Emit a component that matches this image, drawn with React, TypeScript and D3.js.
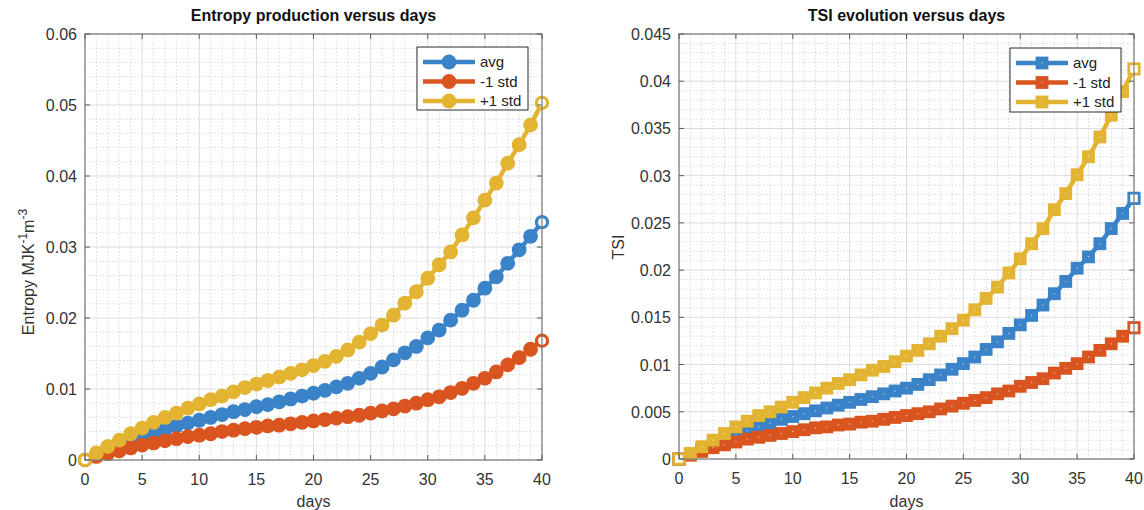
import React from 'react';
import * as d3 from 'd3';

const days = d3.range(0, 41);

// Entropy production (MJ K^-1 m^-3)
const entropyAvg = [
  0, 0.0007, 0.0014, 0.002, 0.0027, 0.0033, 0.0038, 0.0043, 0.0048, 0.0052, 0.0056,
  0.006, 0.0064, 0.0068, 0.0071, 0.0075, 0.0078, 0.0082, 0.0086, 0.009, 0.0094,
  0.0098, 0.0103, 0.0108, 0.0115, 0.0122, 0.0131, 0.0141, 0.0151, 0.016, 0.0172,
  0.0183, 0.0197, 0.0211, 0.0225, 0.0242, 0.0258, 0.0277, 0.0296, 0.0315, 0.0335,
];
const entropyMinus = [
  0, 0.0005, 0.0009, 0.0013, 0.0017, 0.0021, 0.0024, 0.0027, 0.003, 0.0033, 0.0035,
  0.0037, 0.004, 0.0042, 0.0044, 0.0046, 0.0048, 0.0049, 0.0051, 0.0053, 0.0055,
  0.0057, 0.0059, 0.0061, 0.0063, 0.0066, 0.0069, 0.0072, 0.0076, 0.008, 0.0085,
  0.0089, 0.0095, 0.0101, 0.0108, 0.0115, 0.0124, 0.0134, 0.0144, 0.0156, 0.0168,
];
const entropyPlus = [
  0, 0.001, 0.0019, 0.0028, 0.0037, 0.0045, 0.0053, 0.006, 0.0066, 0.0073, 0.0079,
  0.0085, 0.009, 0.0096, 0.0102, 0.0107, 0.0112, 0.0117, 0.0122, 0.0127, 0.0133,
  0.0139, 0.0146, 0.0155, 0.0166, 0.0178, 0.019, 0.0204, 0.0221, 0.0237, 0.0256,
  0.0275, 0.0293, 0.0317, 0.0341, 0.0366, 0.039, 0.0418, 0.0444, 0.0472, 0.0503,
];

// TSI
const tsiAvg = [
  0, 0.0005, 0.001, 0.0015, 0.002, 0.0025, 0.003, 0.0034, 0.0038, 0.0042, 0.0045,
  0.0048, 0.0051, 0.0054, 0.0057, 0.006, 0.0063, 0.0066, 0.0069, 0.0072, 0.0075,
  0.0079, 0.0084, 0.0089, 0.0095, 0.0101, 0.0108, 0.0116, 0.0124, 0.0133, 0.0142,
  0.0152, 0.0163, 0.0175, 0.0188, 0.0202, 0.0214, 0.0228, 0.0244, 0.026, 0.0276,
];
const tsiMinus = [
  0, 0.0004, 0.0008, 0.0012, 0.0015, 0.0018, 0.0021, 0.0023, 0.0025, 0.0027, 0.0029,
  0.0031, 0.0033, 0.0034, 0.0036, 0.0037, 0.0039, 0.004, 0.0042, 0.0044, 0.0046,
  0.0048, 0.005, 0.0053, 0.0056, 0.0059, 0.0062, 0.0065, 0.0069, 0.0072, 0.0077,
  0.0081, 0.0085, 0.0091, 0.0096, 0.0101, 0.0108, 0.0115, 0.0122, 0.013, 0.0139,
];
const tsiPlus = [
  0, 0.0006, 0.0013, 0.002, 0.0027, 0.0034, 0.004, 0.0046, 0.005, 0.0055, 0.006,
  0.0065, 0.007, 0.0075, 0.008, 0.0084, 0.0089, 0.0094, 0.0098, 0.0103, 0.0109,
  0.0115, 0.0122, 0.013, 0.0138, 0.0147, 0.0158, 0.017, 0.0182, 0.0197, 0.0212,
  0.0228, 0.0244, 0.0264, 0.0281, 0.0301, 0.032, 0.0341, 0.0364, 0.0389, 0.0413,
];

const seriesNames = ['avg', '-1 std', '+1 std'];
const colors = ['#3a83c8', '#d9541e', '#e3b332'];

const xTicks = [0, 5, 10, 15, 20, 25, 30, 35, 40];
const entropyTicks = [0, 0.01, 0.02, 0.03, 0.04, 0.05, 0.06];
const tsiTicks = [0, 0.005, 0.01, 0.015, 0.02, 0.025, 0.03, 0.035, 0.04, 0.045];

const font = '"Liberation Sans", Arial, Helvetica, sans-serif';

type PanelProps = {
  left: number;
  right: number;
  top: number;
  bottom: number;
  yMax: number;
  yTicks: number[];
  yMinorStep: number;
  title: string;
  yLabel: React.ReactNode;
  yLabelX: number;
  yLabelY: number;
  series: number[][];
  marker: 'circle' | 'square';
  legend: { x: number; y: number; w: number; h: number };
};

const Marker = ({ kind, x, y, color, hollow }) => {
  if (kind === 'circle') {
    return hollow ? (
      <circle cx={x} cy={y} r={5.6} fill="#fff" stroke={color} strokeWidth={3.2} />
    ) : (
      <circle cx={x} cy={y} r={7.4} fill={color} />
    );
  }
  return hollow ? (
    <rect x={x - 5.2} y={y - 5.2} width={10.4} height={10.4} fill="#fff" stroke={color} strokeWidth={2.8} />
  ) : (
    <g>
      <rect x={x - 6.4} y={y - 6.4} width={12.8} height={12.8} fill={color} />
      <rect x={x - 0.6} y={y - 0.6} width={1.2} height={1.2} fill="#f3f3f3" opacity={0.7} />
    </g>
  );
};

const Panel = (p: PanelProps) => {
  const x = d3.scaleLinear().domain([0, 40]).range([p.left, p.right]);
  const y = d3.scaleLinear().domain([0, p.yMax]).range([p.bottom, p.top]);
  const xMinor = d3.range(0, 41, 1).filter(d => d % 5 !== 0);
  const nMinor = Math.round(p.yMax / p.yMinorStep);
  const yMinor = d3.range(0, nMinor + 1).map(i => i * p.yMinorStep)
    .filter(v => !p.yTicks.some(t => Math.abs(t - v) < p.yMinorStep / 10));
  const line = d3.line<number>().x((_, i) => x(days[i])).y(d => y(d));
  const cx = (p.left + p.right) / 2;
  const tick = 5;

  return (
    <g fontFamily={font}>
      {/* minor grid */}
      {xMinor.map(d => (
        <line key={'xm' + d} x1={x(d)} x2={x(d)} y1={p.top} y2={p.bottom}
          stroke="#d0d0d0" strokeWidth={0.8} strokeDasharray="1.5,2" />
      ))}
      {yMinor.map(v => (
        <line key={'ym' + v} x1={p.left} x2={p.right} y1={y(v)} y2={y(v)}
          stroke="#d0d0d0" strokeWidth={0.8} strokeDasharray="1.5,2" />
      ))}
      {/* major grid */}
      {xTicks.map(d => (
        <line key={'xg' + d} x1={x(d)} x2={x(d)} y1={p.top} y2={p.bottom} stroke="#dcdcdc" strokeWidth={1} />
      ))}
      {p.yTicks.map(v => (
        <line key={'yg' + v} x1={p.left} x2={p.right} y1={y(v)} y2={y(v)} stroke="#dcdcdc" strokeWidth={1} />
      ))}

      {/* series */}
      {p.series.map((vals, si) => (
        <g key={'s' + si}>
          <path d={line(vals) || ''} fill="none" stroke={colors[si]} strokeWidth={4.5} strokeLinejoin="round" />
          {vals.map((v, i) => (
            <Marker key={i} kind={p.marker} x={x(days[i])} y={y(v)} color={colors[si]}
              hollow={i === 0 || i === vals.length - 1} />
          ))}
        </g>
      ))}

      {/* box + ticks */}
      <rect x={p.left} y={p.top} width={p.right - p.left} height={p.bottom - p.top}
        fill="none" stroke="#7a7a7a" strokeWidth={1.2} />
      {xTicks.map(d => (
        <g key={'xt' + d}>
          <line x1={x(d)} x2={x(d)} y1={p.bottom} y2={p.bottom - tick} stroke="#5a5a5a" />
          <line x1={x(d)} x2={x(d)} y1={p.top} y2={p.top + tick} stroke="#5a5a5a" />
          <text x={x(d)} y={p.bottom + 25} textAnchor="middle" fontSize={16} fill="#333">{d}</text>
        </g>
      ))}
      {p.yTicks.map(v => (
        <g key={'yt' + v}>
          <line x1={p.left} x2={p.left + tick} y1={y(v)} y2={y(v)} stroke="#5a5a5a" />
          <line x1={p.right} x2={p.right - tick} y1={y(v)} y2={y(v)} stroke="#5a5a5a" />
          <text x={p.left - 8} y={y(v) + 6} textAnchor="end" fontSize={16} fill="#333">{String(v)}</text>
        </g>
      ))}

      {/* labels */}
      <text x={cx} y={21} textAnchor="middle" fontSize={16} fontWeight="bold" fill="#111">{p.title}</text>
      <text x={cx} y={507} textAnchor="middle" fontSize={16} fill="#333">days</text>
      <text x={p.yLabelX} y={p.yLabelY} textAnchor="middle" fontSize={16} fill="#333"
        transform={`rotate(-90 ${p.yLabelX} ${p.yLabelY})`}>{p.yLabel}</text>

      {/* legend */}
      <g>
        <rect x={p.legend.x} y={p.legend.y} width={p.legend.w} height={p.legend.h}
          fill="#fff" stroke="#2a2a2a" strokeWidth={1} />
        {seriesNames.map((name, i) => {
          const ly = p.legend.y + 15 + i * 19.5;
          const x0 = p.legend.x + 6;
          const x1 = p.legend.x + 58;
          return (
            <g key={name}>
              <line x1={x0} x2={x1} y1={ly} y2={ly} stroke={colors[i]} strokeWidth={4.5} />
              <Marker kind={p.marker} x={(x0 + x1) / 2} y={ly} color={colors[i]} hollow={false} />
              <text x={x1 + 5} y={ly + 5} fontSize={15} fill="#222">{name}</text>
            </g>
          );
        })}
      </g>
    </g>
  );
};

const App = () => {
  return (
    <svg width={1144} height={510} style={{ position: 'absolute', left: 0, top: 0, background: '#fff' }}>
      <Panel
        left={85}
        right={542}
        top={34}
        bottom={460}
        yMax={0.06}
        yTicks={entropyTicks}
        yMinorStep={0.002}
        title="Entropy production versus days"
        yLabel={
          <>
            Entropy MJK
            <tspan dy={-7} fontSize={12}>-1</tspan>
            <tspan dy={7}>m</tspan>
            <tspan dy={-7} fontSize={12}>-3</tspan>
          </>
        }
        yLabelX={34}
        yLabelY={272}
        series={[entropyAvg, entropyMinus, entropyPlus]}
        marker="circle"
        legend={{ x: 417, y: 47, w: 111, h: 63 }}
      />
      <Panel
        left={679}
        right={1134}
        top={34}
        bottom={459}
        yMax={0.045}
        yTicks={tsiTicks}
        yMinorStep={0.001}
        title="TSI evolution versus days"
        yLabel="TSI"
        yLabelX={624}
        yLabelY={247}
        series={[tsiAvg, tsiMinus, tsiPlus]}
        marker="square"
        legend={{ x: 1010, y: 48, w: 111, h: 64 }}
      />
    </svg>
  );
};

export default App;
